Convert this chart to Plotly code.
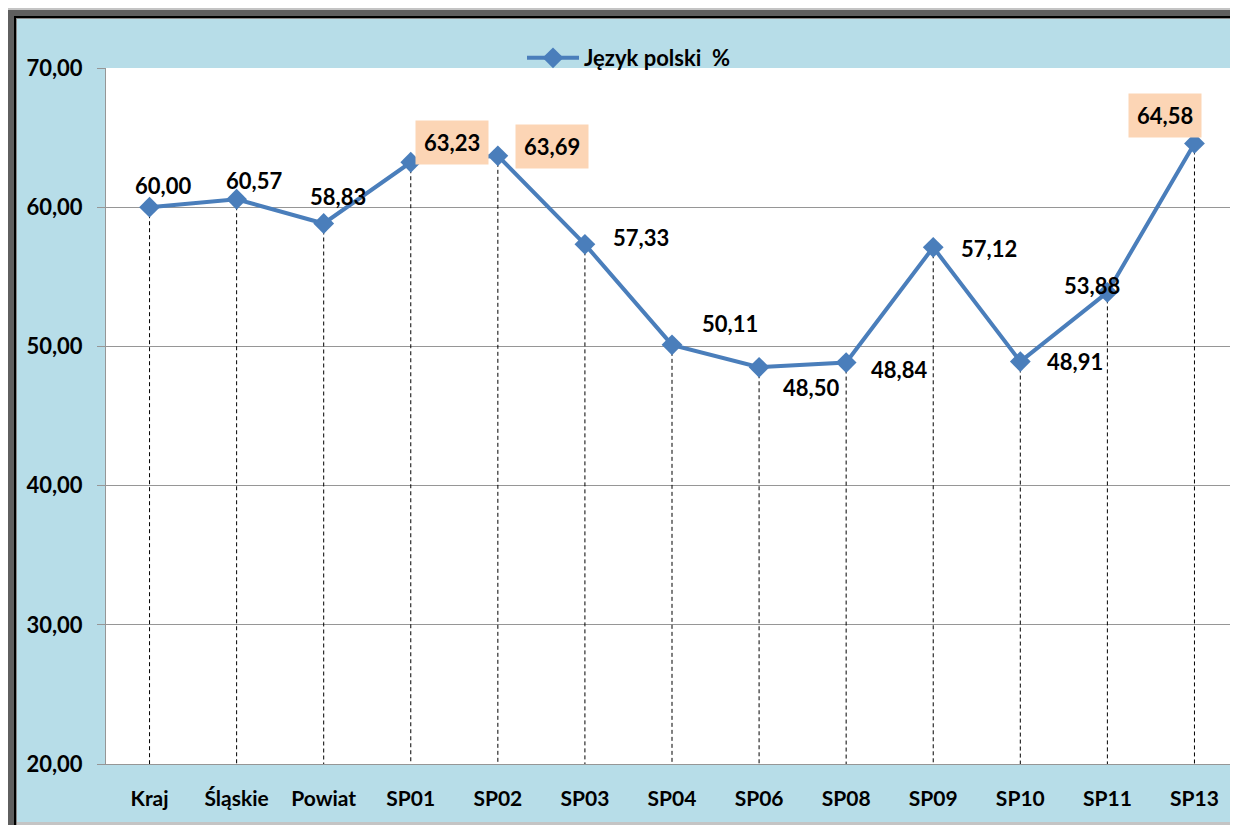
import plotly.graph_objects as go

# --- DATA ---
categories = ['Kraj', 'Śląskie', 'Powiat', 'SP01', 'SP02', 'SP03', 'SP04',
              'SP06', 'SP08', 'SP09', 'SP10', 'SP11', 'SP13']
values = [60.00, 60.57, 58.83, 63.23, 63.69, 57.33, 50.11,
          48.50, 48.84, 57.12, 48.91, 53.88, 64.58]
highlighted = ['SP01', 'SP02', 'SP13']
series_name = 'Język polski\u00a0 %'
y_ticks = [20, 30, 40, 50, 60, 70]

# label offsets in pixels (dx, dy) for each data label
label_offsets = [(13, 22), (17, 19), (14, 27), (41, 20), (54, 9), (56, 7), (58, 21),
                 (52, -20), (53, -7), (56, -1), (55, 0), (-15, 7), (-29, 28)]

# --- CONFIGURATION ---
# the page body adds an 8px margin, so the figure is drawn smaller to fit
OFF = 8
W, H = 1238 - OFF, 825 - OFF
L, R, T = 106 - OFF, 0, 68 - OFF
B = H - (764 - OFF)
BLUE = '#4a7ebb'
FRAME_BG = '#b7dde8'
GRID = '#969696'
FONT = 'Lato'


def px(x):
    # page pixel -> paper x
    return (x - OFF - L) / (W - L - R)


def py(y):
    # page pixel -> paper y
    return (H - B - (y - OFF)) / (H - T - B)


def rect(x0, y0, x1, y1, color, layer='above'):
    # rectangle in page pixel coords
    return dict(type='rect', xref='paper', yref='paper', layer=layer,
                x0=px(x0), x1=px(x1), y0=py(y1), y1=py(y0),
                fillcolor=color, line=dict(width=0))


fig = go.Figure()

# dashed drop lines from each point down to the axis
drop_x, drop_y = [], []
for c, v in zip(categories, values):
    drop_x.extend([c, c, None])
    drop_y.extend([v, y_ticks[0], None])

fig.add_trace(go.Scatter(
    x=drop_x, y=drop_y, mode='lines',
    line=dict(color='black', width=1, dash='4px,3px'),
    showlegend=False, hoverinfo='skip'
))

fig.add_trace(go.Scatter(
    x=categories, y=values, mode='lines+markers',
    name=series_name,
    line=dict(color=BLUE, width=4),
    marker=dict(symbol='diamond', size=16, color=BLUE),
))

# data labels
annotations = []
for c, v, (dx, dy) in zip(categories, values, label_offsets):
    hl = c in highlighted
    annotations.append(dict(
        x=c, y=v, xref='x', yref='y',
        text=f'{v:.2f}'.replace('.', ','),
        showarrow=False, xshift=dx, yshift=dy,
        font=dict(family=FONT, size=22, color='black', weight='bold'),
        bgcolor='#fcd5b5' if hl else 'rgba(0,0,0,0)',
        borderpad=8 if hl else 0,
    ))

# frame around the chart (outside the plot area)
shapes = [
    rect(8, 8, 1238, 10, '#c4c4c4'),
    rect(8, 10, 1238, 16, '#5f5f5f'),
    rect(8, 10, 14, 825, '#5f5f5f'),
    rect(14, 16, 1238, 18, 'black'),
    rect(14, 16, 16, 825, 'black'),
    rect(16, 18, 1238, 19, '#8a8a8a'),
    rect(16, 18, 17, 825, '#8a8a8a'),
    rect(17, 822, 1238, 825, '#c4c4c4'),
    # keep the plot background white right up to the page edge
    rect(1220, 68, 1250, 764, 'white', layer='below'),
]

fig.update_layout(
    width=W, height=H,
    margin=dict(l=L, r=R, t=T, b=B),
    paper_bgcolor=FRAME_BG,
    plot_bgcolor='white',
    font=dict(family=FONT, size=21, color='black'),
    separators=',.',
    showlegend=True,
    legend=dict(
        orientation='h', x=px(522), xanchor='left', y=py(58), yanchor='middle',
        bgcolor='rgba(0,0,0,0)', font=dict(family=FONT, size=22, weight='bold'),
        itemwidth=52,
    ),
    xaxis=dict(
        type='category', range=[-0.5, len(categories) - 0.5],
        showgrid=False, zeroline=False, automargin=False,
        showline=True, linecolor=GRID, linewidth=1,
        ticks='', ticklabelstandoff=16,
        tickfont=dict(family=FONT, size=21, weight='bold'),
    ),
    yaxis=dict(
        range=[y_ticks[0], y_ticks[-1]], tickvals=y_ticks, tickformat='.2f',
        showgrid=True, gridcolor=GRID, gridwidth=1, zeroline=False, automargin=False,
        showline=True, linecolor=GRID, linewidth=1,
        ticks='outside', ticklen=8, tickcolor=GRID, ticklabelstandoff=10,
        tickfont=dict(family=FONT, size=22, weight='bold'),
    ),
    annotations=annotations,
    shapes=shapes,
)

fig.write_html('out.html')
